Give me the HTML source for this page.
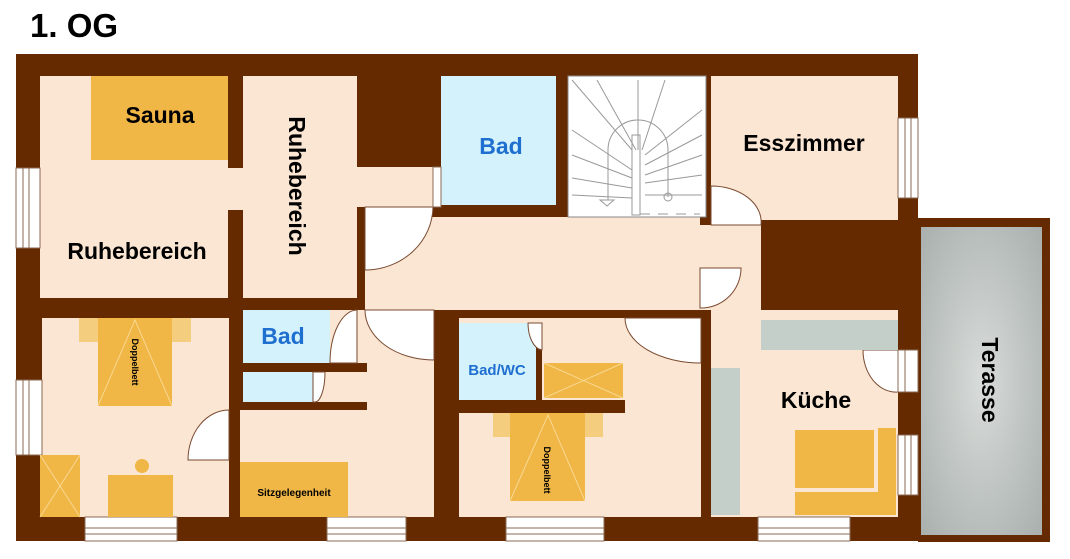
<!DOCTYPE html>
<html><head><meta charset="utf-8"><style>
body{margin:0;background:#fff;}
svg{display:block;font-family:"Liberation Sans",sans-serif;font-weight:bold;}
</style></head><body>
<svg width="1070" height="559" viewBox="0 0 1070 559" xmlns="http://www.w3.org/2000/svg">
<defs>
<radialGradient id="g" cx="50%" cy="50%" r="70%"><stop offset="0" stop-color="#d8dcda"/><stop offset="1" stop-color="#a9b0ad"/></radialGradient>
</defs>
<text x="30" y="37" font-size="33" fill="#000">1. OG</text>
<rect x="16" y="54" width="902" height="487" fill="#662a00"/>
<rect x="918" y="218" width="132" height="324" fill="#662a00"/>
<rect x="921" y="227" width="121" height="308" fill="url(#g)"/>
<g fill="#fae6d2">
<rect x="40" y="76" width="188" height="222"/>
<rect x="228" y="168" width="15" height="42"/>
<rect x="243" y="76" width="114" height="222"/>
<rect x="357" y="167" width="76" height="40"/>
<rect x="365" y="217" width="335" height="93"/>
<rect x="700" y="225" width="61" height="85"/>
<rect x="711" y="76" width="187" height="144"/>
<rect x="42" y="318" width="187" height="199"/>
<rect x="240" y="410" width="194" height="107"/>
<rect x="313" y="372" width="54" height="38"/>
<rect x="330" y="310" width="37" height="53"/>
<rect x="459" y="318" width="242" height="199"/>
<rect x="536" y="318" width="90" height="82"/>
<rect x="711" y="310" width="187" height="207"/>
</g>
<rect x="365" y="310" width="69" height="100" fill="#fae6d2"/>
<g fill="#d4f2fb">
<rect x="441" y="76" width="115" height="129"/>
<rect x="243" y="310" width="87" height="53"/>
<rect x="243" y="372" width="70" height="30"/>
<rect x="459" y="323" width="77" height="77"/>
</g>
<rect x="229" y="363" width="138" height="9" fill="#662a00"/>
<rect x="229" y="402" width="138" height="8" fill="#662a00"/>
<rect x="229" y="310" width="14" height="100" fill="#662a00"/>
<rect x="459" y="400" width="166" height="13" fill="#662a00"/>
<rect x="536" y="323" width="6" height="77" fill="#662a00"/>
<rect x="568" y="76" width="138" height="141" fill="#fff" stroke="#888" stroke-width="1"/>
<g stroke="#999" stroke-width="1" fill="none">
<path d="M572 80 L632 150 M597 80 L636 150 M638 80 L638 150 M665 80 L642 150 M702 110 L645 155 M572 130 L632 170 M572 155 L632 178 M572 178 L632 188 M572 195 L632 198 M702 135 L645 165 M702 155 L645 175 M702 175 L645 183 M702 195 L645 195"/>
<path d="M608 200 L608 150 A30 30 0 0 1 668 150 L668 197"/>
<rect x="632" y="135" width="8" height="80"/>
<circle cx="668" cy="197" r="4"/>
<path d="M600 200 L614 200 L607 206 Z"/>
<path d="M640 214 L700 214" stroke-dasharray="10 8"/>
</g>
<g fill="#fff" stroke="#7a4a30" stroke-width="1">
<path d="M365 207 L433 207 A68 64 0 0 1 365 270 Z"/>
<path d="M365 310 L434 310 L434 360 A69 50 0 0 1 365 310 Z"/>
<path d="M357 310 L357 363 L330 363 A27 53 0 0 1 357 310 Z"/>
<path d="M313 372 L325 372 A10 30 0 0 1 315 402 L313 402 Z"/>
<path d="M229 410 L229 460 L188 460 A41 50 0 0 1 229 410 Z"/>
<path d="M625 318 L701 318 L701 363 A76 45 0 0 1 625 318 Z"/>
<path d="M542 323 L542 350 A15 27 0 0 1 528 323 Z"/>
<path d="M711 186 A50 36 0 0 1 761 225 L711 225 Z"/>
<path d="M700 268 L741 268 A40 40 0 0 1 700 308 Z"/>
<path d="M898 350 L898 392 A33 42 0 0 1 863 350 Z"/>
</g>
<g fill="#fff" stroke="#8a6a55" stroke-width="1">
<rect x="16" y="168" width="24" height="80"/>
<rect x="16" y="380" width="26" height="75"/>
<rect x="898" y="118" width="20" height="80"/>
<rect x="898" y="350" width="20" height="42"/>
<rect x="898" y="435" width="20" height="60"/>
<rect x="85" y="517" width="92" height="24"/>
<rect x="327" y="517" width="79" height="24"/>
<rect x="506" y="517" width="98" height="24"/>
<rect x="758" y="517" width="92" height="24"/>
<rect x="433" y="167" width="8" height="40"/>
</g>
<g stroke="#8a6a55" stroke-width="1">
<path d="M23 168 V248 M29 168 V248 M23 380 V455 M29 380 V455 M905 118 V198 M911 118 V198 M905 350 V392 M905 435 V495 M911 435 V495"/>
<path d="M85 528 H177 M85 534 H177 M327 528 H406 M327 534 H406 M506 528 H604 M506 534 H604 M758 528 H850 M758 534 H850"/>
</g>
<rect x="91" y="76" width="137" height="84" fill="#f0b646"/>
<rect x="79" y="318" width="112" height="24" fill="#f4cd7f"/>
<rect x="98" y="318" width="74" height="88" fill="#f0b646"/>
<path d="M98 406 L135 320 L172 406" stroke="#f8d890" fill="none"/>
<rect x="40" y="455" width="40" height="62" fill="#f0b646"/>
<path d="M40 455 L80 517 M80 455 L40 517" stroke="#f8d890"/>
<rect x="108" y="475" width="65" height="42" fill="#f0b646"/>
<circle cx="142" cy="466" r="7" fill="#f0b646"/>
<rect x="240" y="462" width="108" height="55" fill="#f0b646"/>
<rect x="493" y="413" width="110" height="24" fill="#f4cd7f"/>
<rect x="510" y="413" width="75" height="88" fill="#f0b646"/>
<path d="M510 501 L548 415 L585 501" stroke="#f8d890" fill="none"/>
<rect x="544" y="363" width="79" height="35" fill="#f0b646"/>
<path d="M544 363 L623 398 M623 363 L544 398" stroke="#f8d890"/>
<rect x="761" y="320" width="137" height="30" fill="#c3cfc8"/>
<rect x="711" y="368" width="29" height="147" fill="#c3cfc8"/>
<rect x="795" y="430" width="79" height="58" fill="#f0b646"/>
<rect x="795" y="492" width="101" height="23" fill="#f0b646"/>
<rect x="878" y="428" width="18" height="87" fill="#f0b646"/>
<g fill="#000" text-anchor="middle">
<text x="160" y="123" font-size="23">Sauna</text>
<text x="137" y="259" font-size="23">Ruhebereich</text>
<text transform="translate(289,186) rotate(90)" font-size="23">Ruhebereich</text>
<text x="804" y="151" font-size="23">Esszimmer</text>
<text x="816" y="408" font-size="23">Küche</text>
<text transform="translate(982,380) rotate(90)" font-size="23">Terasse</text>
<text transform="translate(132,362) rotate(90)" font-size="9">Doppelbett</text>
<text transform="translate(544,470) rotate(90)" font-size="9">Doppelbett</text>
<text x="294" y="496" font-size="10">Sitzgelegenheit</text>
</g>
<g fill="#1f6fd1" text-anchor="middle">
<text x="501" y="154" font-size="23">Bad</text>
<text x="283" y="344" font-size="23">Bad</text>
<text x="497" y="375" font-size="15">Bad/WC</text>
</g>
</svg>
</body></html>
